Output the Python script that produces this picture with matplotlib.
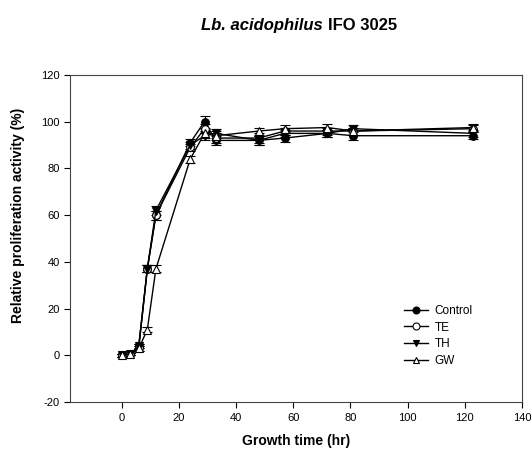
import matplotlib
matplotlib.use("Agg")
import matplotlib.pyplot as plt
from matplotlib.lines import Line2D

plt.rcParams["font.family"] = ["Liberation Sans", "DejaVu Sans"]
plt.rcParams["axes.unicode_minus"] = False

# growth time (hr)
hours = [0, 3, 6, 9, 12, 24, 29, 33, 48, 57, 72, 81, 123]

# relative proliferation activity (%)
control = [0, 0.5, 4, 37, 60, 91, 100, 92, 92, 93, 95, 94, 94]
te = [0, 0.5, 3, 37, 60, 89, 97, 93, 93, 96, 96, 96, 97]
th = [0, 0.5, 4, 37, 62, 90, 94, 95, 92, 95, 95, 97, 95]
gw = [0, 0.5, 3, 11, 37, 84, 95, 94, 96, 97, 97.5, 96, 97.5]

control_err = [0.5, 0.5, 1, 1.5, 2, 1.5, 2.5, 2, 2, 1.5, 1.5, 2, 1.5]
te_err = [0.5, 0.5, 1, 1.5, 2, 1.5, 2, 2, 2, 1.5, 1.5, 1.5, 1.5]
th_err = [0.5, 0.5, 1, 1.5, 2, 1.5, 2, 2, 2, 1.5, 1.5, 1.5, 1.5]
gw_err = [0.5, 0.5, 1, 1, 1.5, 1.5, 2, 2, 1.5, 1.5, 1.5, 1.5, 1.5]

fig = plt.figure(figsize=(5.31, 4.57), dpi=100)
ax = fig.add_axes([0.132, 0.120, 0.851, 0.716])

series = [
    ("Control", control, control_err, "o", "black"),
    ("TE", te, te_err, "o", "white"),
    ("TH", th, th_err, "v", "black"),
    ("GW", gw, gw_err, "^", "white"),
]

handles = []
for name, vals, errs, mk, face in series:
    ax.errorbar(hours, vals, yerr=errs, color="black", lw=1, marker=mk,
                markersize=5.5, markerfacecolor=face, markeredgecolor="black",
                markeredgewidth=0.8, capsize=3.5, elinewidth=0.8)
    handles.append(Line2D([], [], color="black", lw=1, marker=mk,
                          markersize=5, markerfacecolor=face,
                          markeredgecolor="black", markeredgewidth=0.8,
                          label=name))

ax.set_xlim(-18, 140)
ax.set_ylim(-20, 120)
ax.set_xticks(range(0, 141, 20))
ax.set_yticks(range(-20, 121, 20))
ax.tick_params(labelsize=8, direction="out", length=4, width=0.8)
for s in ax.spines.values():
    s.set_linewidth(0.8)
    s.set_color("#444444")

ax.set_xlabel("Growth time (hr)", fontsize=10, fontweight="bold", labelpad=8)
ax.set_ylabel("Relative proliferation activity (%)", fontsize=10,
              fontweight="bold")
ax.yaxis.set_label_coords(-0.1, 0.57)

# title: species name in bold italic, strain in bold
fig.text(0.607, 0.945, "Lb. acidophilus", ha="right", va="center",
         fontsize=12, fontweight="bold", fontstyle="italic")
fig.text(0.618, 0.945, "IFO 3025", ha="left", va="center",
         fontsize=12, fontweight="bold")

ax.legend(handles=handles, loc="lower right", bbox_to_anchor=(0.915, 0.075),
          frameon=False, fontsize=8.5, handlelength=2.0, labelspacing=0.4,
          handletextpad=0.6)

fig.savefig("out.png", dpi=100)
